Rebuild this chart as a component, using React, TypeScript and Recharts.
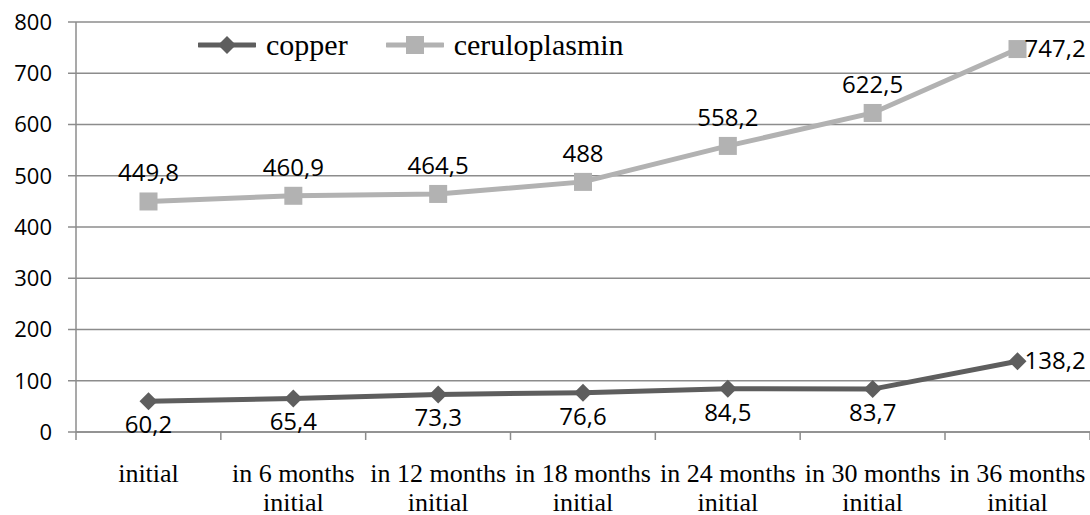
import { LineChart, Line, XAxis, YAxis, CartesianGrid, LabelList } from 'recharts'

const categories = [
  'initial',
  'in 6 months initial',
  'in 12 months initial',
  'in 18 months initial',
  'in 24 months initial',
  'in 30 months initial',
  'in 36 months initial',
]
const copper = [60.2, 65.4, 73.3, 76.6, 84.5, 83.7, 138.2]
const ceruloplasmin = [449.8, 460.9, 464.5, 488, 558.2, 622.5, 747.2]
const yTicks = [0, 100, 200, 300, 400, 500, 600, 700, 800]

const COPPER_COLOR = '#5e5e5e'
const CERULO_COLOR = '#b2b2b2'
const GRID_COLOR = '#8c8c8c'
const SERIF = '"Liberation Serif", "Times New Roman", serif'
const SANS = '"Open Sans", sans-serif'
const HALF_BAND = 72.5

const data = categories.map((name, i) => ({ name, copper: copper[i], ceruloplasmin: ceruloplasmin[i] }))

const fmt = (v: number) => String(v).replace('.', ',')

function Diamond({ cx, cy, r = 9, color }: { cx: number; cy: number; r?: number; color: string }) {
  return <polygon points={`${cx},${cy - r} ${cx + r},${cy} ${cx},${cy + r} ${cx - r},${cy}`} fill={color} />
}

function Square({ cx, cy, s = 18, color }: { cx: number; cy: number; s?: number; color: string }) {
  return <rect x={cx - s / 2} y={cy - s / 2} width={s} height={s} fill={color} />
}

function CategoryTick(props: any) {
  const { x, y, payload, index } = props
  const words = String(payload.value).split(' ')
  const lines = words.length > 1 ? [words.slice(0, -1).join(' '), words[words.length - 1]] : words
  return (
    <g>
      <line x1={x - HALF_BAND} y1={y} x2={x - HALF_BAND} y2={y + 8} stroke={GRID_COLOR} strokeWidth={1.5} />
      {index === categories.length - 1 && (
        <line x1={x + HALF_BAND} y1={y} x2={x + HALF_BAND} y2={y + 8} stroke={GRID_COLOR} strokeWidth={1.5} />
      )}
      {lines.map((t, i) => (
        <text key={i} x={x} y={y + 50 + i * 29} textAnchor="middle" fontFamily={SERIF} fontSize={26} fill="#000">
          {t}
        </text>
      ))}
    </g>
  )
}

// labels: ceruloplasmin above its points, copper below; the last point of each is labelled to the right
const makeLabel = (below: boolean) => (props: any) => {
  const { x, y, value, index } = props
  if (index === categories.length - 1) {
    return (
      <text x={x + 7} y={y + 8} textAnchor="start" fontFamily={SANS} fontSize={24} fill="#000">
        {fmt(value)}
      </text>
    )
  }
  return (
    <text x={x} y={below ? y + 32 : y - 20} textAnchor="middle" fontFamily={SANS} fontSize={24} fill="#000">
      {fmt(value)}
    </text>
  )
}

function ChartLegend() {
  const items = [
    { label: 'copper', color: COPPER_COLOR, shape: 'diamond' },
    { label: 'ceruloplasmin', color: CERULO_COLOR, shape: 'square' },
  ]
  return (
    <div
      style={{
        position: 'absolute',
        left: 198,
        top: 30,
        display: 'flex',
        alignItems: 'center',
        fontFamily: SERIF,
        fontSize: 30,
        whiteSpace: 'nowrap',
      }}
    >
      {items.map(it => (
        <div key={it.label} style={{ display: 'flex', alignItems: 'center', marginRight: 38 }}>
          <svg width={58} height={20} style={{ marginRight: 10 }}>
            <line x1={1} y1={10} x2={57} y2={10} stroke={it.color} strokeWidth={5} strokeLinecap="round" />
            {it.shape === 'diamond' ? (
              <Diamond cx={29} cy={10} r={9} color={it.color} />
            ) : (
              <Square cx={29} cy={10} s={18} color={it.color} />
            )}
          </svg>
          <span style={{ lineHeight: '30px' }}>{it.label}</span>
        </div>
      ))}
    </div>
  )
}

export default function App() {
  return (
    <div style={{ position: 'absolute', left: 0, top: 0, width: 1090, height: 515, background: '#fff' }}>
      <LineChart width={1090} height={515} data={data} margin={{ top: 22, right: 0, bottom: 0, left: 0 }}>
        <CartesianGrid vertical={false} stroke={GRID_COLOR} strokeWidth={1.5} />
        <XAxis
          dataKey="name"
          height={83}
          padding={{ left: HALF_BAND, right: HALF_BAND }}
          tickLine={false}
          tickSize={0}
          tickMargin={0}
          interval={0}
          axisLine={{ stroke: GRID_COLOR, strokeWidth: 1.5 }}
          tick={<CategoryTick />}
        />
        <YAxis
          width={76}
          domain={[0, 800]}
          ticks={yTicks}
          interval={0}
          tickSize={8}
          tickMargin={16}
          tickLine={{ stroke: GRID_COLOR, strokeWidth: 1.5 }}
          axisLine={{ stroke: GRID_COLOR, strokeWidth: 1.5 }}
          tick={{ fontFamily: SANS, fontSize: 22, fill: '#000' }}
        />
        <Line
          type="linear"
          dataKey="ceruloplasmin"
          stroke={CERULO_COLOR}
          strokeWidth={5}
          isAnimationActive={false}
          dot={(p: any) => <Square key={`c${p.index}`} cx={p.cx} cy={p.cy} color={CERULO_COLOR} />}
          activeDot={false}
        >
          <LabelList dataKey="ceruloplasmin" content={makeLabel(false)} />
        </Line>
        <Line
          type="linear"
          dataKey="copper"
          stroke={COPPER_COLOR}
          strokeWidth={5}
          isAnimationActive={false}
          dot={(p: any) => <Diamond key={`d${p.index}`} cx={p.cx} cy={p.cy} color={COPPER_COLOR} />}
          activeDot={false}
        >
          <LabelList dataKey="copper" content={makeLabel(true)} />
        </Line>
      </LineChart>
      <ChartLegend />
    </div>
  )
}
